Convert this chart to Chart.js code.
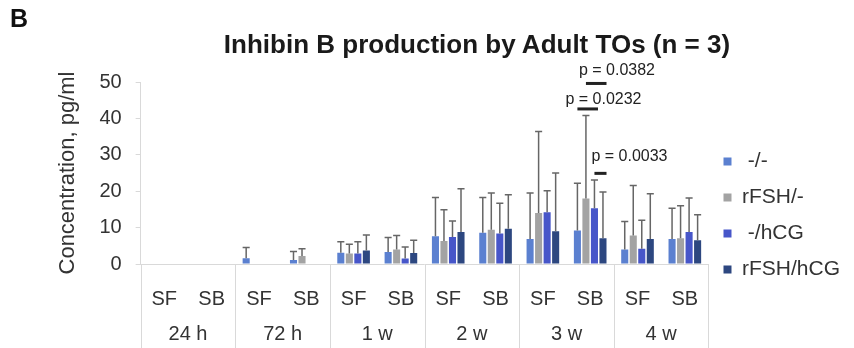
<!DOCTYPE html>
<html lang="en">
<head>
  <meta charset="UTF-8">
  <title>Inhibin B production by Adult TOs</title>
  <script src="https://cdn.jsdelivr.net/npm/chart.js"></script>
  <style>
    body {
      margin: 0;
      background: #fff;
      font-family: "Liberation Sans", Arial, sans-serif;
    }
    .wrap {
      position: relative;
      width: 854px;
      height: 348px;
    }
    .panel {
      position: absolute;
      left: 10px;
      top: 4px;
      font-size: 25px;
      font-weight: bold;
      color: #111;
    }
    .title {
      position: absolute;
      left: 177px;
      width: 600px;
      top: 29px;
      line-height: 30px;
      text-align: center;
      font-size: 26px;
      font-weight: bold;
      color: #1a1a1a;
    }
  </style>
</head>
<body>
  <div class="wrap">
    <canvas id="chart" width="854" height="348"></canvas>
    <div class="panel">B</div>
    <div class="title">Inhibin B production by Adult TOs (n = 3)</div>
  </div>

  <script>
    // categories: culture medium (SF / SB) within each time point
    const categories = ['SF', 'SB', 'SF', 'SB', 'SF', 'SB', 'SF', 'SB', 'SF', 'SB', 'SF', 'SB'];
    const timeLabels = ['24 h', '72 h', '1 w', '2 w', '3 w', '4 w'];
    const yTicks = [0, 10, 20, 30, 40, 50];

    const seriesNames = [' -/-', 'rFSH/-', ' -/hCG', 'rFSH/hCG'];

    // means (pg/ml)
    const ctrl     = [0, 0, 1.6, 1.1, 3.1, 3.3, 7.6, 8.6, 6.9, 9.2, 4.0, 6.9];
    const fsh      = [0, 0, 0, 2.2, 2.9, 4.0, 6.3, 9.4, 14.0, 18.0, 7.8, 7.1];
    const hcg      = [0, 0, 0, 0, 2.9, 1.5, 7.4, 8.4, 14.2, 15.3, 4.2, 8.8];
    const fshHcg   = [0, 0, 0, 0, 3.7, 3.0, 8.8, 9.7, 9.0, 7.1, 6.9, 6.5];

    // upper error (SD)
    const ctrlErr   = [0, 0, 2.9, 2.3, 3.0, 4.0, 10.7, 9.7, 12.6, 13.0, 7.7, 8.4];
    const fshErr    = [0, 0, 0, 2.0, 2.5, 3.8, 8.6, 10.1, 22.4, 22.8, 13.8, 8.9];
    const hcgErr    = [0, 0, 0, 0, 3.2, 3.2, 4.4, 8.3, 5.9, 7.8, 7.8, 9.3];
    const fshHcgErr = [0, 0, 0, 0, 4.3, 3.5, 11.9, 9.3, 16.0, 12.7, 12.4, 7.0];

    // significance marks (all in 3 w / SB)
    const sigLabels   = ['p = 0.0382', 'p = 0.0232', 'p = 0.0033'];
    const sigCategory = [9, 9, 9];
    const sigFrom     = [1, 0, 2];
    const sigTo       = [3, 2, 3];
    const sigLevel    = [49.6, 42.6, 24.9];

    const colors = ['#5b80d0', '#a3a3a3', '#4756c9', '#2d4780'];
    const sigText = [{ dx: -7, dy: -13 }, { dx: -12, dy: -9 }, { dx: -3, dy: -17 }];
    const axisGray = '#d9d9d9';
    const textColor = '#333';
    const fontFamily = '"Liberation Sans", Arial, sans-serif';

    const errorBars = {
      id: 'errorBars',
      afterDatasetsDraw(chart) {
        const { ctx } = chart;
        const y = chart.scales.y;
        ctx.save();
        ctx.strokeStyle = '#666';
        ctx.lineWidth = 1.5;
        chart.data.datasets.forEach((ds, i) => {
          chart.getDatasetMeta(i).data.forEach((bar, j) => {
            const err = ds.errors[j];
            if (!err) return;
            const top = y.getPixelForValue(ds.data[j] + err);
            const half = bar.width / 2;
            ctx.beginPath();
            ctx.moveTo(bar.x, bar.y);
            ctx.lineTo(bar.x, top);
            ctx.moveTo(bar.x - half, top);
            ctx.lineTo(bar.x + half, top);
            ctx.stroke();
          });
        });
        ctx.restore();
      }
    };

    const sigMarks = {
      id: 'sigMarks',
      afterDatasetsDraw(chart) {
        const { ctx } = chart;
        const y = chart.scales.y;
        ctx.save();
        ctx.fillStyle = '#222';
        ctx.font = '16px ' + fontFamily;
        ctx.textBaseline = 'middle';
        sigLabels.forEach((txt, k) => {
          const a = chart.getDatasetMeta(sigFrom[k]).data[sigCategory[k]];
          const b = chart.getDatasetMeta(sigTo[k]).data[sigCategory[k]];
          const yy = y.getPixelForValue(sigLevel[k]);
          const x0 = a.x;
          const x1 = b.x + b.width / 2;
          ctx.fillRect(x0, yy - 1.5, x1 - x0, 3);
          ctx.fillText(txt, x0 + sigText[k].dx, yy + sigText[k].dy);
        });
        ctx.restore();
      }
    };

    // second label row (time points) and the separators between them
    const timeAxis = {
      id: 'timeAxis',
      afterDraw(chart) {
        const { ctx } = chart;
        const x = chart.scales.x;
        const step = x.width / timeLabels.length;
        ctx.save();
        ctx.strokeStyle = axisGray;
        ctx.lineWidth = 1;
        for (let i = 0; i <= timeLabels.length; i++) {
          const px = Math.round(x.left + i * step) + 0.5;
          ctx.beginPath();
          ctx.moveTo(px, x.top);
          ctx.lineTo(px, chart.height);
          ctx.stroke();
        }
        ctx.fillStyle = textColor;
        ctx.font = '20px ' + fontFamily;
        ctx.textAlign = 'center';
        ctx.textBaseline = 'middle';
        timeLabels.forEach((t, i) => {
          const cx = (x.getPixelForValue(2 * i) + x.getPixelForValue(2 * i + 1)) / 2;
          ctx.fillText(t, cx, x.top + 70);
        });
        ctx.restore();
      }
    };

    const datasets = [
      [ctrl, ctrlErr], [fsh, fshErr], [hcg, hcgErr], [fshHcg, fshHcgErr]
    ].map(([data, errors], i) => ({
      label: seriesNames[i],
      data: data,
      errors: errors,
      backgroundColor: colors[i],
      borderWidth: 0,
      categoryPercentage: 0.72,
      barPercentage: 0.83
    }));

    new Chart(document.getElementById('chart'), {
      type: 'bar',
      data: { labels: categories, datasets: datasets },
      options: {
        responsive: false,
        animation: false,
        layout: { padding: { top: 82, left: 55, right: 4, bottom: 22 } },
        plugins: {
          title: { display: false },
          tooltip: { enabled: false },
          legend: {
            position: 'right',
            title: { display: true, text: ' ', padding: 0, font: { size: 19 } },
            labels: {
              boxWidth: 8,
              boxHeight: 8,
              padding: 15,
              color: textColor,
              font: { family: fontFamily, size: 21 }
            }
          }
        },
        scales: {
          x: {
            grid: { display: false },
            border: { color: axisGray },
            ticks: {
              color: textColor,
              padding: 15,
              font: { family: fontFamily, size: 20 }
            }
          },
          y: {
            min: 0,
            max: 50,
            afterBuildTicks: (axis) => { axis.ticks = yTicks.map(v => ({ value: v })); },
            grid: {
              drawOnChartArea: false,
              tickLength: 5,
              color: axisGray
            },
            border: { color: axisGray },
            ticks: {
              color: textColor,
              padding: 14,
              font: { family: fontFamily, size: 20 }
            },
            title: {
              display: true,
              text: 'Concentration, pg/ml',
              color: textColor,
              padding: { top: 0, bottom: 4 },
              font: { family: fontFamily, size: 22 }
            }
          }
        }
      },
      plugins: [errorBars, sigMarks, timeAxis]
    });
  </script>
</body>
</html>
